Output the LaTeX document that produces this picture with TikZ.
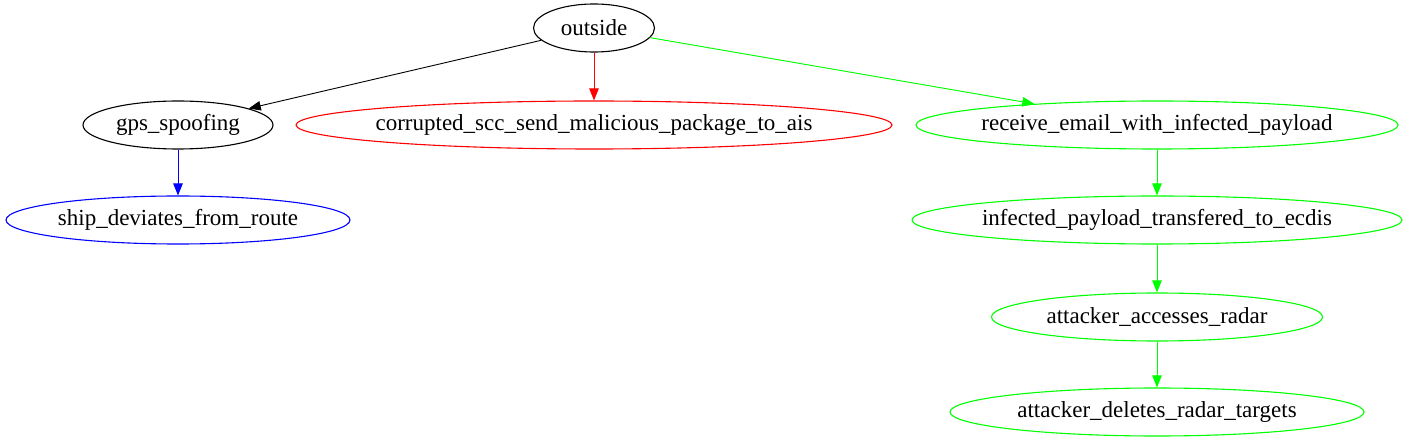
\documentclass[tikz,border=0pt]{standalone}
\usepackage{fontspec}
\setmainfont{Liberation Serif}
\usetikzlibrary{shapes.geometric,arrows.meta}
\definecolor{gvgreen}{RGB}{0,255,0}
\definecolor{gvred}{RGB}{255,0,0}
\definecolor{gvblue}{RGB}{0,0,255}
\tikzset{
  gvnode/.style={ellipse, draw, inner sep=0pt, line width=1.1pt,
    font=\fontsize{23}{26}\selectfont},
  gvedge/.style={line width=0.9pt, -{Triangle[length=12pt,width=9.5pt]}},
}
\newcommand{\zb}[1]{\makebox[0pt]{#1}}
\begin{document}
\begin{tikzpicture}[x=1pt,y=-1pt]
\useasboundingbox (0,0) rectangle (1408,443);
\node[gvnode, minimum width=121pt, minimum height=48pt] (outside) at (594,28) {\zb{outside}};
\node[gvnode, minimum width=190pt, minimum height=48pt] (gps) at (178,125) {\zb{gps\_spoofing}};
\node[gvnode, draw=gvred, minimum width=596pt, minimum height=48pt] (corr) at (594,125) {\zb{corrupted\_scc\_send\_malicious\_package\_to\_ais}};
\node[gvnode, draw=gvgreen, minimum width=482pt, minimum height=48pt] (recv) at (1157,125) {\zb{receive\_email\_with\_infected\_payload}};
\node[gvnode, draw=gvblue, minimum width=344pt, minimum height=48pt] (ship) at (178,220) {\zb{ship\_deviates\_from\_route}};
\node[gvnode, draw=gvgreen, minimum width=490pt, minimum height=48pt] (inf) at (1157,220) {\zb{infected\_payload\_transfered\_to\_ecdis}};
\node[gvnode, draw=gvgreen, minimum width=331pt, minimum height=48pt] (acc) at (1157,317) {\zb{attacker\_accesses\_radar}};
\node[gvnode, draw=gvgreen, minimum width=414pt, minimum height=48pt] (del) at (1157,412) {\zb{attacker\_deletes\_radar\_targets}};
\draw[gvedge] (outside) -- (gps);
\draw[gvedge, draw=gvred, fill=gvred] (outside) -- (corr);
\draw[gvedge, draw=gvgreen, fill=gvgreen] (outside) -- (recv);
\draw[gvedge, draw=gvblue, fill=gvblue] (gps) -- (ship);
\draw[gvedge, draw=gvgreen, fill=gvgreen] (recv) -- (inf);
\draw[gvedge, draw=gvgreen, fill=gvgreen] (inf) -- (acc);
\draw[gvedge, draw=gvgreen, fill=gvgreen] (acc) -- (del);
\end{tikzpicture}
\end{document}
